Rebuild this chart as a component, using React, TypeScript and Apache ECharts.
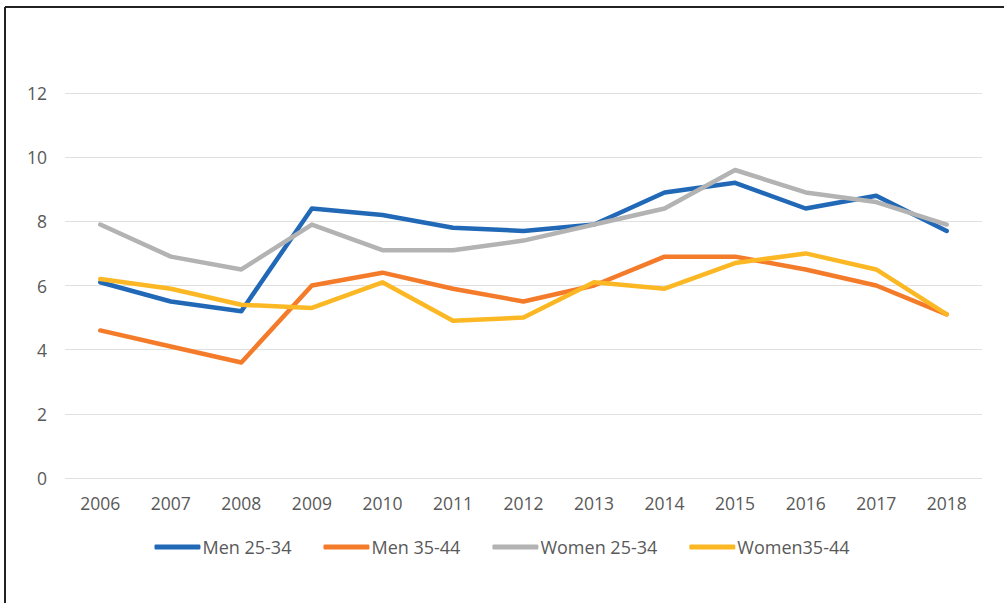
import React, { useEffect, useRef } from "react";
import * as echarts from "echarts";

const years = ["2006","2007","2008","2009","2010","2011","2012","2013","2014","2015","2016","2017","2018"];
const men2534 = [6.1, 5.5, 5.2, 8.4, 8.2, 7.8, 7.7, 7.9, 8.9, 9.2, 8.4, 8.8, 7.7];
const men3544 = [4.6, 4.1, 3.6, 6.0, 6.4, 5.9, 5.5, 6.0, 6.9, 6.9, 6.5, 6.0, 5.1];
const women2534 = [7.9, 6.9, 6.5, 7.9, 7.1, 7.1, 7.4, 7.9, 8.4, 9.6, 8.9, 8.6, 7.9];
const women3544 = [6.2, 5.9, 5.4, 5.3, 6.1, 4.9, 5.0, 6.1, 5.9, 6.7, 7.0, 6.5, 5.1];
const seriesNames = ["Men 25-34", "Men 35-44", "Women 25-34", "Women35-44"];
const colors = ["#2169B6", "#F47B2A", "#B3B3B3", "#FBB824"];

export default function App() {
  const ref = useRef<HTMLDivElement>(null);
  useEffect(() => {
    if (!ref.current) return;
    const chart = echarts.init(ref.current, null, { renderer: "svg" });
    const datasets = [men2534, men3544, women2534, women3544];
    chart.setOption({
      animation: false,
      backgroundColor: "#ffffff",
      textStyle: { fontFamily: "Open Sans, Noto Sans, sans-serif" },
      grid: { left: 65, right: 22, top: 93, bottom: 125 },
      legend: {
        bottom: 42,
        left: "center",
        itemWidth: 46,
        itemHeight: 5,
        itemGap: 32,
        icon: "roundRect",
        textStyle: { fontSize: 18, color: "#595959", padding: [0, 0, 0, -3] },
        data: seriesNames,
      },
      xAxis: {
        type: "category",
        data: years,
        boundaryGap: true,
        axisLine: { show: false },
        axisTick: { show: false },
        axisLabel: { fontSize: 17.5, color: "#595959", margin: 16 },
      },
      yAxis: {
        type: "value",
        min: 0,
        max: 12,
        interval: 2,
        axisLine: { show: false },
        axisTick: { show: false },
        axisLabel: { fontSize: 17.5, color: "#595959", margin: 18 },
        splitLine: { lineStyle: { color: "#E0E0E0", width: 1 } },
      },
      graphic: [
        { type: "line", shape: { x1: 5, y1: 7, x2: 1004, y2: 7 }, style: { stroke: "#222", lineWidth: 2 } },
        { type: "line", shape: { x1: 5, y1: 7, x2: 5, y2: 603 }, style: { stroke: "#222", lineWidth: 2 } },
      ],
      series: datasets.map((d, i) => ({
        name: seriesNames[i],
        type: "line",
        data: d,
        symbol: "none",
        color: colors[i],
        lineStyle: { width: 4.5, color: colors[i], cap: "round", join: "round" },
      })),
    });
    return () => chart.dispose();
  }, []);
  return (
    <div
      ref={ref}
      style={{ position: "fixed", left: 0, top: 0, width: 1004, height: 603 }}
    />
  );
}
